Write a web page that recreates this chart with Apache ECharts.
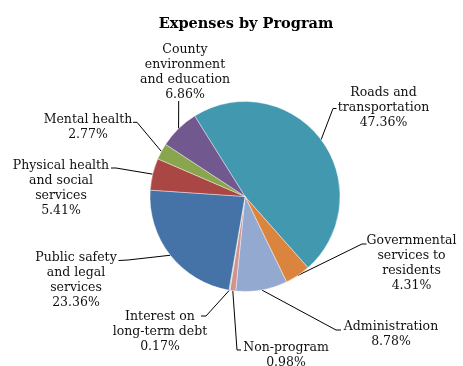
<!DOCTYPE html>
<html>
<head>
<meta charset="utf-8">
<script src="https://cdn.jsdelivr.net/npm/echarts@6/dist/echarts.min.js"></script>
<style>
html,body{margin:0;padding:0;background:#fff;}
#chart{width:463px;height:366px;}
</style>
</head>
<body>
<div id="chart"></div>
<script>
// ---- data ----
const categories = [
  'Roads and transportation',
  'Governmental services to residents',
  'Administration',
  'Non-program',
  'Interest on long-term debt',
  'Public safety and legal services',
  'Physical health and social services',
  'Mental health',
  'County environment and education'
];
const labelTexts = [
  'Roads and\ntransportation',
  'Governmental\nservices to\nresidents',
  'Administration',
  'Non-program',
  'Interest on\nlong-term debt',
  'Public safety\nand legal\nservices',
  'Physical health\nand social\nservices',
  'Mental health',
  'County\nenvironment\nand education'
];
const shares = [47.36, 4.31, 8.78, 0.98, 0.17, 23.36, 5.41, 2.77, 6.86];

// ---- style / layout ----
const colors = ['#4198AF', '#DB843D', '#93A9CF', '#D19392', '#B9CD96', '#4572A7', '#AA4643', '#89A54E', '#71588F'];
// label block centres and leader-line elbow/end points
const labelPlace = [
  {x: 383.5, y: 107.5, p1: [333, 108.5], p2: [336.5, 108.5]},
  {x: 411.5, y: 263,   p1: [362, 244],   p2: [366.5, 244]},
  {x: 391,   y: 334,   p1: [336, 330],   p2: [341, 330]},
  {x: 286,   y: 355,   p1: [237, 350],   p2: [241, 350]},
  {x: 160,   y: 332,   p1: [206, 316],   p2: [201, 316]},
  {x: 76,    y: 280,   p1: [128, 260],   p2: [118.5, 260.5]},
  {x: 61,    y: 188.5, p1: [116, 168],   p2: [111, 168]},
  {x: 88,    y: 127,   p1: [137, 122.3], p2: [133, 122.3]},
  {x: 185,   y: 71.8,  p1: [178.7, 101], p2: [178.7, 101]}
];

const chart = echarts.init(document.getElementById('chart'), null, {renderer: 'canvas'});
const data = categories.map((c, i) => ({name: c, value: shares[i], itemStyle: {color: colors[i]}}));

chart.setOption({
  animation: false,
  title: {
    text: 'Expenses by Program',
    left: 241, top: 12, textAlign: 'center',
    textStyle: {fontFamily: 'DejaVu Serif', fontWeight: 'bold', fontSize: 14.5, color: '#000'}
  },
  series: [{
    type: 'pie',
    center: [245, 196.5],
    radius: 95,
    startAngle: 122,
    clockwise: true,
    avoidLabelOverlap: false,
    minShowLabelAngle: 0,
    data: data,
    itemStyle: {borderColor: '#fff', borderWidth: 0.4},
    emphasis: {disabled: true},
    label: {
      show: true,
      position: 'outside',
      formatter: p => labelTexts[p.dataIndex] + '\n' + p.value.toFixed(2) + '%',
      fontFamily: 'DejaVu Serif',
      fontSize: 12.5,
      lineHeight: 15,
      color: '#111',
      align: 'center'
    },
    labelLine: {show: true, length: 10, length2: 5, lineStyle: {color: '#000', width: 1}},
    labelLayout: function (params) {
      const lp = labelPlace[params.dataIndex];
      const p0 = params.labelLinePoints[0];
      return {
        x: lp.x, y: lp.y, align: 'center', verticalAlign: 'middle',
        labelLinePoints: [[p0[0], p0[1]], lp.p1, lp.p2]
      };
    }
  }]
});
</script>
</body>
</html>
